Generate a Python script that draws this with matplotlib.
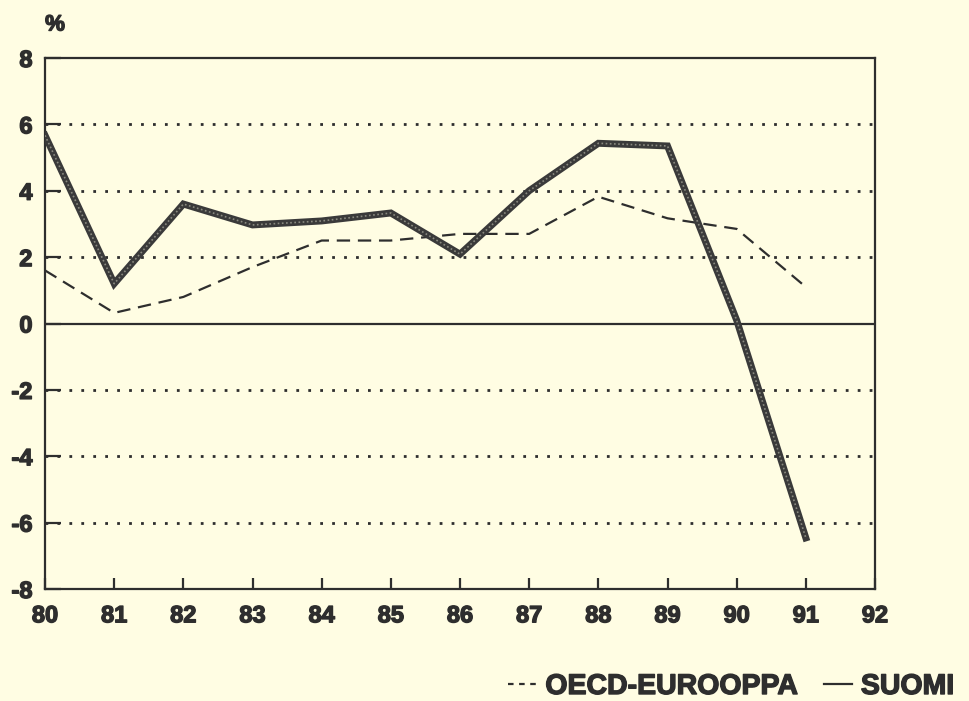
import matplotlib
matplotlib.use("Agg")
import matplotlib.pyplot as plt
from matplotlib.lines import Line2D
import matplotlib.patheffects as pe

years = [80, 81, 82, 83, 84, 85, 86, 87, 88, 89, 90, 91]
suomi = [5.67, 1.2, 3.6, 2.97, 3.09, 3.33, 2.09, 4.0, 5.43, 5.35, 0.1, -6.46]
oecd = [1.6, 0.32, 0.8, 1.7, 2.5, 2.5, 2.7, 2.7, 3.82, 3.17, 2.85, 1.1]
xticks = [80, 81, 82, 83, 84, 85, 86, 87, 88, 89, 90, 91, 92]
yticks = [-8, -6, -4, -2, 0, 2, 4, 6, 8]
grid_levels = [-6, -4, -2, 2, 4, 6]

bg = "#fffde3"
ink = "#2e2e2e"
plt.rcParams['font.family'] = ['Liberation Sans', 'DejaVu Sans']
plt.rcParams['font.weight'] = 'bold'
heavy = [pe.withStroke(linewidth=1.0, foreground=ink)]

fig = plt.figure(figsize=(9.7, 7.01), dpi=100, facecolor=bg)
ax = fig.add_axes([45/970, 1-589/701, (875-45)/970, (589-58)/701], facecolor=bg)

for g in grid_levels:
    ax.axhline(g, color=ink, lw=2.0, linestyle=(0, (1, 3.3)), zorder=1)
ax.axhline(0, color=ink, lw=1.6, zorder=1)

ax.plot(years, oecd, color=ink, lw=1.6, linestyle=(0, (6, 3.5)), zorder=2)
ax.plot(years, suomi, color="#3a3a3a", lw=5, solid_joinstyle='miter', zorder=3)
ax.plot(years, suomi, color="#8a8a80", lw=1.2, linestyle=(0, (1, 1.5)), zorder=4)

ax.set_xlim(80, 92)
ax.set_ylim(-8, 8)
ax.set_xticks(xticks)
ax.set_xticklabels([str(x) for x in xticks])
ax.set_yticks(yticks)
ax.set_yticklabels([str(y) for y in yticks])
ax.tick_params(axis='x', direction='in', length=8, width=1.6, colors=ink,
               labelsize=17, pad=11)
ax.tick_params(axis='y', direction='in', length=11.5, width=1.6, colors=ink,
               labelsize=17, pad=9)
for lab in ax.get_xticklabels() + ax.get_yticklabels():
    lab.set_fontweight('bold')
    lab.set_color(ink)
    lab.set_path_effects(heavy)
for s in ax.spines.values():
    s.set_linewidth(1.6)
    s.set_color(ink)

fig.text(55/970, 1-25/701, "%", fontsize=16, fontweight='bold', color=ink,
         ha='center', va='center', path_effects=heavy)

handles = [Line2D([], [], color=ink, lw=1.6, linestyle=(0, (2.5, 2.5))),
           Line2D([], [], color=ink, lw=1.6)]
leg = fig.legend(handles, ["OECD-EUROOPPA", "SUOMI"], loc='center right',
                 bbox_to_anchor=(980/970, 1-687/701), ncol=2, frameon=False,
                 handlelength=1.0, handletextpad=0.3, columnspacing=0.9,
                 prop={'size': 20.5, 'weight': 'bold'}, labelcolor=ink)
for t in leg.get_texts():
    t.set_path_effects(heavy)

fig.savefig("out.png", dpi=100, facecolor=bg)
